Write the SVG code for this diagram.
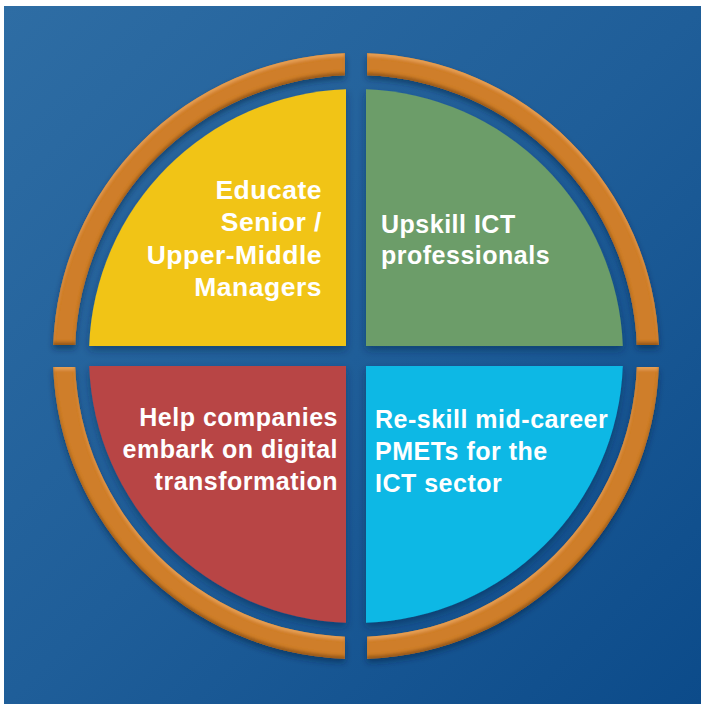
<svg xmlns="http://www.w3.org/2000/svg" width="701" height="704" viewBox="0 0 701 704">
<defs>
<linearGradient id="bg" x1="0" y1="0" x2="1" y2="1">
<stop offset="0" stop-color="#2E6DA4"/>
<stop offset="0.5" stop-color="#1F5E99"/>
<stop offset="1" stop-color="#0C4B8A"/>
</linearGradient>
<filter id="shadow" x="-20%" y="-20%" width="140%" height="140%">
<feDropShadow dx="0" dy="4" stdDeviation="4" flood-color="#06223f" flood-opacity="0.45"/>
</filter>
<filter id="bevel" x="-20%" y="-20%" width="140%" height="140%">
<feGaussianBlur in="SourceAlpha" stdDeviation="1.5" result="b"/>
<feOffset in="b" dy="3" result="down"/>
<feComposite in="SourceAlpha" in2="down" operator="out" result="topEdge"/>
<feFlood flood-color="#EBA55A" flood-opacity="0.8"/>
<feComposite in2="topEdge" operator="in" result="hl"/>
<feOffset in="b" dy="-3" result="up"/>
<feComposite in="SourceAlpha" in2="up" operator="out" result="botEdge"/>
<feFlood flood-color="#7A4510" flood-opacity="0.7"/>
<feComposite in2="botEdge" operator="in" result="dk"/>
<feGaussianBlur in="SourceAlpha" stdDeviation="3" result="sb"/>
<feOffset in="sb" dy="4" result="so"/>
<feFlood flood-color="#06223f" flood-opacity="0.5"/>
<feComposite in2="so" operator="in" result="ds"/>
<feMerge>
<feMergeNode in="ds"/>
<feMergeNode in="SourceGraphic"/>
<feMergeNode in="hl"/>
<feMergeNode in="dk"/>
</feMerge>
</filter>
</defs>
<style>
.ring{fill:#CF7E2A;filter:url(#bevel)}
.q{filter:url(#shadow)}
.t{font-family:"Liberation Sans",Arial,Helvetica,sans-serif;font-weight:bold;font-size:25px;fill:#FFFFFF;letter-spacing:0.5px}
.y{font-size:26.5px}
.r{text-anchor:end}
</style>
<rect x="0" y="0" width="701" height="704" fill="#FFFFFF"/>
<rect x="4" y="6" width="697" height="698" fill="url(#bg)"/>
<g id="ring">
<path class="ring" d="M 53.2 345 A 303 303 0 0 1 345 53.2 L 345 75.22 A 281 281 0 0 0 75.22 345 Z"/>
<path class="ring" d="M 367 53.2 A 303 303 0 0 1 658.8 345 L 636.78 345 A 281 281 0 0 0 367 75.22 Z"/>
<path class="ring" d="M 658.8 367 A 303 303 0 0 1 367 658.8 L 367 636.78 A 281 281 0 0 0 636.78 367 Z"/>
<path class="ring" d="M 345 658.8 A 303 303 0 0 1 53.2 367 L 75.22 367 A 281 281 0 0 0 345 636.78 Z"/>
</g>
<g id="educate">
<path class="q" fill="#F1C418" d="M 346 346 L 89.19 346 A 267 267 0 0 1 346 89.19 Z"/>
<text class="t y r" x="322" y="199">Educate</text>
<text class="t y r" x="322" y="231">Senior /</text>
<text class="t y r" x="322" y="264">Upper-Middle</text>
<text class="t y r" x="322" y="296">Managers</text>
</g>
<g id="upskill">
<path class="q" fill="#6C9D69" d="M 366 346 L 366 89.19 A 267 267 0 0 1 622.81 346 Z"/>
<text class="t" x="381" y="233">Upskill ICT</text>
<text class="t" x="381" y="264">professionals</text>
</g>
<g id="help">
<path class="q" fill="#B84445" d="M 346 366 L 346 622.81 A 267 267 0 0 1 89.19 366 Z"/>
<text class="t r" x="338" y="426">Help companies</text>
<text class="t r" x="338" y="458">embark on digital</text>
<text class="t r" x="338" y="490">transformation</text>
</g>
<g id="reskill">
<path class="q" fill="#0AB8E5" d="M 366 366 L 622.81 366 A 267 267 0 0 1 366 622.81 Z"/>
<text class="t" x="375" y="428">Re-skill mid-career</text>
<text class="t" x="375" y="460">PMETs for the</text>
<text class="t" x="375" y="492">ICT sector</text>
</g>
</svg>
